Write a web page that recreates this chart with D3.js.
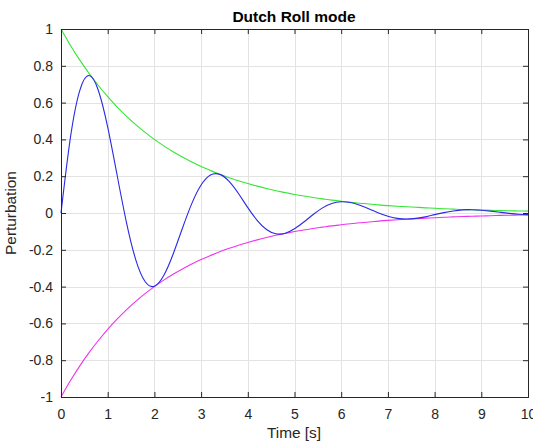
<!DOCTYPE html>
<html><head><meta charset="utf-8">
<script src="https://cdn.jsdelivr.net/npm/d3@7"></script>
<style>
html,body{margin:0;padding:0;background:#fff;}
svg{display:block;font-family:"Liberation Sans",Arial,Helvetica,sans-serif;}
</style></head>
<body>
<svg id="c" width="533" height="443"></svg>
<script>
// time samples [s]
const time = [0,0.2,0.4,0.6,0.8,1.0,1.2,1.4,1.6,1.8,2.0,2.2,2.4,2.6,2.8,3.0,3.2,3.4,3.6,3.8,4.0,4.2,4.4,4.6,4.8,5.0,5.2,5.4,5.6,5.8,6.0,6.2,6.4,6.6,6.8,7.0,7.2,7.4,7.6,7.8,8.0,8.2,8.4,8.6,8.8,9.0,9.2,9.4,9.6,9.8,10.0];
// Dutch roll response (blue)
const response = [0,0.407,0.664,0.747,0.666,0.467,0.208,-0.049,-0.253,-0.372,-0.398,-0.340,-0.224,-0.083,0.051,0.152,0.206,0.210,0.172,0.106,0.029,-0.040,-0.090,-0.113,-0.110,-0.086,-0.049,-0.008,0.028,0.052,0.061,0.057,0.042,0.022,0.000,-0.018,-0.029,-0.033,-0.029,-0.021,-0.009,0.002,0.011,0.017,0.018,0.015,0.010,0.004,-0.002,-0.007,-0.009];
// upper envelope (green)
const upperEnv = [1,0.912,0.832,0.759,0.693,0.632,0.577,0.526,0.480,0.438,0.400,0.365,0.333,0.304,0.277,0.253,0.231,0.210,0.192,0.175,0.160,0.146,0.133,0.121,0.111,0.101,0.092,0.084,0.077,0.070,0.064,0.058,0.053,0.049,0.044,0.040,0.037,0.034,0.031,0.028,0.026,0.023,0.021,0.019,0.018,0.016,0.015,0.013,0.012,0.011,0.010];
// lower envelope (magenta)
const lowerEnv = upperEnv.map(v => -v);
const xTicks = [0,1,2,3,4,5,6,7,8,9,10];
const yTicks = [-1,-0.8,-0.6,-0.4,-0.2,0,0.2,0.4,0.6,0.8,1];
const yTickLabels = ["-1","-0.8","-0.6","-0.4","-0.2","0","0.2","0.4","0.6","0.8","1"];

const L = 61, T = 29, R = 528, B = 397;
const svg = d3.select("#c");
const x = d3.scaleLinear().domain([0,10]).range([L,R]);
const y = d3.scaleLinear().domain([-1,1]).range([B,T]);

// grid
const g = svg.append("g");
g.selectAll(".gx").data(xTicks.slice(1,-1)).join("line")
  .attr("x1",d=>Math.round(x(d))+0.5).attr("x2",d=>Math.round(x(d))+0.5).attr("y1",T).attr("y2",B)
  .attr("stroke","#e3e3e3").attr("stroke-width",1);
g.selectAll(".gy").data(yTicks.slice(1,-1)).join("line")
  .attr("y1",d=>Math.round(y(d))+0.5).attr("y2",d=>Math.round(y(d))+0.5).attr("x1",L).attr("x2",R)
  .attr("stroke","#e3e3e3").attr("stroke-width",1);

// curves
const mk = arr => d3.line().x((d,i)=>x(time[i])).y(d=>y(d)).curve(d3.curveNatural)(arr);
svg.append("path").attr("d",mk(upperEnv)).attr("fill","none").attr("stroke","#33e633").attr("stroke-width",1.1);
svg.append("path").attr("d",mk(lowerEnv)).attr("fill","none").attr("stroke","#ee33ee").attr("stroke-width",1.1);
svg.append("path").attr("d",mk(response)).attr("fill","none").attr("stroke","#2a2ae6").attr("stroke-width",1.1);

// axes
const axCol = "#262626";
const axB = svg.append("g").attr("transform",`translate(0,${B})`)
  .call(d3.axisBottom(x).tickValues(xTicks).tickSize(-5).tickPadding(12).tickFormat(d3.format("d")));
const axT = svg.append("g").attr("transform",`translate(0,${T})`)
  .call(d3.axisTop(x).tickValues(xTicks).tickSize(-5).tickFormat(""));
const axL = svg.append("g").attr("transform",`translate(${L},0)`)
  .call(d3.axisLeft(y).tickValues(yTicks).tickSize(-5).tickPadding(8).tickFormat((d,i)=>yTickLabels[i]));
const axR = svg.append("g").attr("transform",`translate(${R},0)`)
  .call(d3.axisRight(y).tickValues(yTicks).tickSize(-5).tickFormat(""));
[axB,axT,axL,axR].forEach(a=>{
  a.selectAll("path").attr("stroke",axCol).attr("stroke-width",1);
  a.selectAll("line").attr("stroke",axCol);
  a.selectAll("text").attr("fill","#262626").style("font-size","14px").style("font-family","Liberation Sans, Arial, sans-serif");
});

// title & labels
svg.append("text").attr("x",294).attr("y",22).attr("text-anchor","middle")
  .style("font-size","15.5px").style("font-weight","bold").attr("fill","#000").text("Dutch Roll mode");
svg.append("text").attr("x",294).attr("y",438).attr("text-anchor","middle")
  .style("font-size","15.4px").attr("fill","#262626").text("Time [s]");
svg.append("text").attr("transform",`translate(16,${(T+B)/2}) rotate(-90)`).attr("text-anchor","middle")
  .style("font-size","15.4px").attr("fill","#262626").text("Perturbation");
</script>
</body></html>
